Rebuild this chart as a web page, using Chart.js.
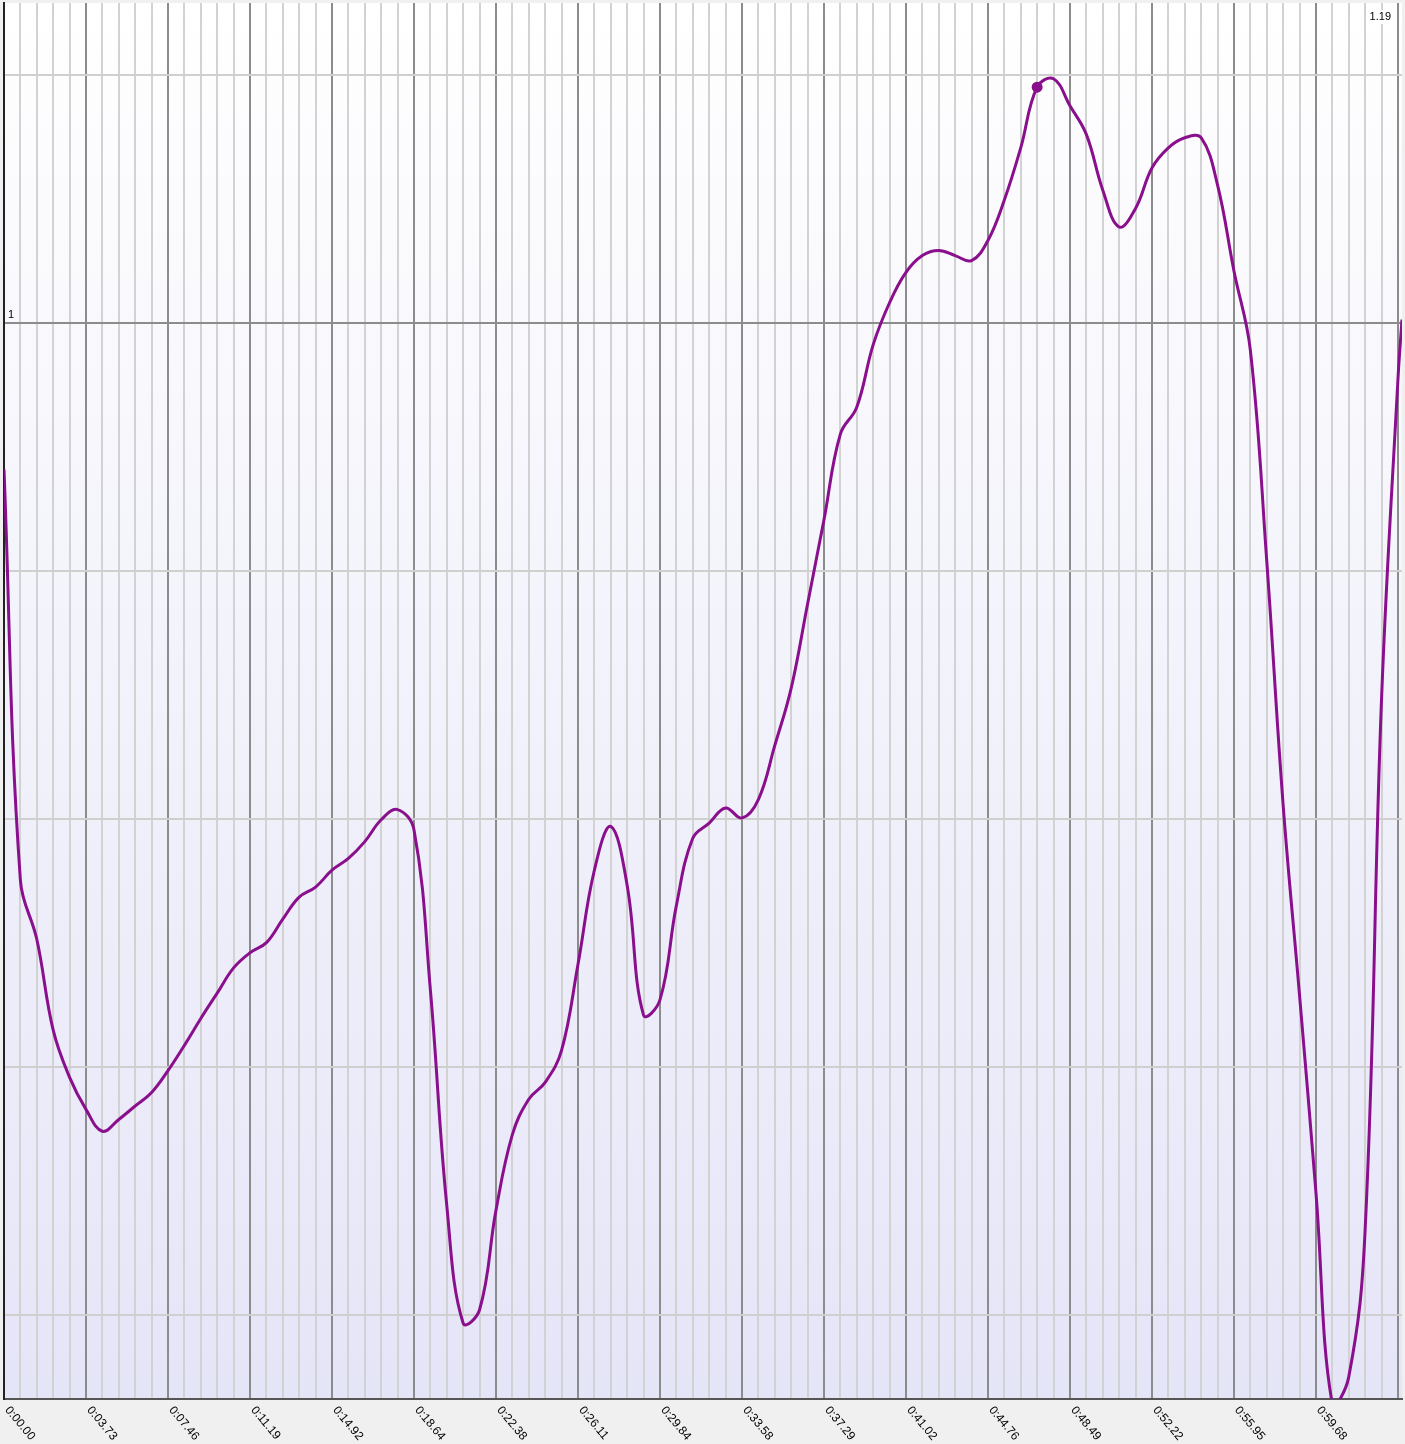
<!DOCTYPE html>
<html>
<head>
<meta charset="utf-8">
<title>pace chart</title>
<script src="https://cdn.jsdelivr.net/npm/chart.js@4.4.1/dist/chart.umd.min.js"></script>
<style>
    body { margin: 0; background: #f0f0f0; overflow: hidden; }
    #wrap { width: 1405px; height: 1444px; }
</style>
</head>
<body>
<div id="wrap"><canvas id="myChart"></canvas></div>
<script>
// one value per sample, samples sit on the minor grid lines (0.746 s apart)
const values = [
    0.913, 0.669, 0.634, 0.580, 0.552, 0.533, 0.520, 0.527, 0.535, 0.543,
    0.556, 0.571, 0.587, 0.602, 0.617, 0.626, 0.632, 0.646, 0.659, 0.665,
    0.675, 0.682, 0.692, 0.705, 0.711, 0.699, 0.604, 0.476, 0.406, 0.414,
    0.473, 0.518, 0.539, 0.549, 0.568, 0.619, 0.675, 0.701, 0.666, 0.589,
    0.598, 0.654, 0.694, 0.703, 0.712, 0.706, 0.717, 0.749, 0.783, 0.833,
    0.883, 0.934, 0.950, 0.987, 1.012, 1.030, 1.040, 1.043, 1.040, 1.037,
    1.049, 1.073, 1.104, 1.140, 1.145, 1.129, 1.112, 1.079, 1.057, 1.068,
    1.092, 1.104, 1.110, 1.110, 1.082, 1.031, 0.984, 0.859, 0.714, 0.601,
    0.484, 0.358, 0.374, 0.461, 0.776, 0.966
];
// last sample runs a little past the final grid line
const tailX = 85.25;
const tailValue = 1.002;

// time labels on every 5th grid line
const tickLabels = [
    '0:00.00', '0:03.73', '0:07.46', '0:11.19', '0:14.92', '0:18.64',
    '0:22.38', '0:26.11', '0:29.84', '0:33.58', '0:37.29', '0:41.02',
    '0:44.76', '0:48.49', '0:52.22', '0:55.95', '0:59.68'
];
const minorPerMajor = 5;

// y range, reference line at 1 and grid spacing
const yMin = 0.361;
const yMax = 1.19;
const yRef = 1;
const yStep = 0.14725;
const markedIndex = 63;

const points = values.map((v, i) => ({x: i, y: v}));
points.push({x: tailX, y: tailValue});

const lineColor = '#8a0f8c';
const labelFont = '11px "Liberation Sans", Arial, sans-serif';

// lavender gradient behind the plot
const plotBackground = {
    id: 'plotBackground',
    beforeDraw: chart => {
        const {ctx, chartArea} = chart;
        ctx.save();
        ctx.fillStyle = '#f0f0f0';
        ctx.fillRect(0, 0, chart.width, chart.height);
        const g = ctx.createLinearGradient(0, chartArea.top, 0, chartArea.bottom);
        g.addColorStop(0, '#ffffff');
        g.addColorStop(1, '#e5e5f8');
        ctx.fillStyle = g;
        ctx.fillRect(chartArea.left, chartArea.top, chartArea.right - chartArea.left, chartArea.bottom - chartArea.top);
        ctx.restore();
    }
};

// axis texts drawn by hand: x labels go down to the right (chart.js only rotates the other way),
// y labels sit inside the plot
const axisTexts = {
    id: 'axisTexts',
    afterDraw: chart => {
        const {ctx, chartArea} = chart;
        const xs = chart.scales.x;
        const ys = chart.scales.y;
        ctx.save();
        ctx.fillStyle = '#000';
        ctx.font = '12px "Liberation Sans", Arial, sans-serif';
        ctx.textAlign = 'left';
        ctx.textBaseline = 'middle';
        tickLabels.forEach((lbl, i) => {
            const px = xs.getPixelForValue(i * minorPerMajor);
            ctx.save();
            ctx.translate(px + 3, chartArea.bottom + 9);
            ctx.rotate(50 * Math.PI / 180);
            ctx.fillText(lbl, 0, 0);
            ctx.restore();
        });

        // "1" just above the reference line
        ctx.font = labelFont;
        ctx.fillText(String(yRef), chartArea.left + 4, ys.getPixelForValue(yRef) - 8);

        // top value in the right corner on a white patch
        const topText = String(yMax);
        const w = ctx.measureText(topText).width;
        const tx = xs.getPixelForValue(xs.max) - 11;
        const ty = ys.getPixelForValue(yMax) + 14;
        ctx.fillStyle = '#fff';
        ctx.fillRect(tx - w - 2, ty - 7, w + 4, 14);
        ctx.fillStyle = '#000';
        ctx.textAlign = 'right';
        ctx.fillText(topText, tx, ty);
        ctx.restore();
    }
};

const config = {
    type: 'line',
    data: {
        datasets: [{
            data: points,
            borderColor: lineColor,
            backgroundColor: lineColor,
            borderWidth: 3,
            tension: 0.4,
            fill: false,
            pointRadius: points.map((p, i) => i === markedIndex ? 4 : 0),
            pointHoverRadius: 0
        }]
    },
    options: {
        responsive: true,
        maintainAspectRatio: false,
        animation: false,
        layout: {autoPadding: false, padding: {left: 4, top: 3, right: 3, bottom: 45}},
        plugins: {legend: {display: false}, tooltip: {enabled: false}},
        scales: {
            x: {
                type: 'linear',
                min: 0,
                max: tailX,
                afterBuildTicks: axis => {
                    axis.ticks = values.map((v, i) => ({value: i}));
                },
                ticks: {display: false, autoSkip: false},
                grid: {
                    drawTicks: false,
                    lineWidth: 2,
                    color: c => c.tick && c.tick.value % minorPerMajor === 0 ? '#8c8c8c' : '#d2d2d2'
                },
                border: {color: '#555', width: 2}
            },
            y: {
                min: yMin,
                max: yMax,
                afterBuildTicks: axis => {
                    const t = [];
                    for (let k = -4; k <= 1; k++) t.push({value: yRef + k * yStep});
                    axis.ticks = t;
                },
                ticks: {display: false},
                grid: {
                    drawTicks: false,
                    lineWidth: 2,
                    color: c => c.tick && Math.abs(c.tick.value - yRef) < 1e-6 ? '#8c8c8c' : '#cfcfcf'
                },
                border: {color: '#222', width: 2}
            }
        }
    },
    plugins: [plotBackground, axisTexts]
};

const myChart = new Chart(document.getElementById('myChart'), config);
</script>
</body>
</html>
